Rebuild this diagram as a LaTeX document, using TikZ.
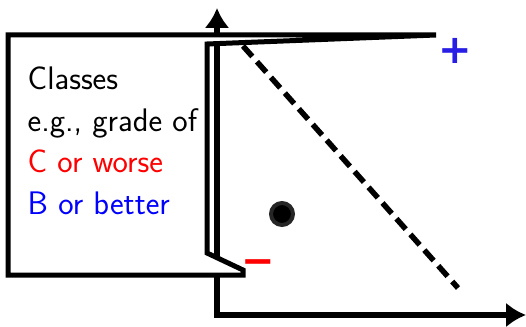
\documentclass[tikz,border=0pt]{standalone}
\usepackage{fontspec}
\usepackage{tikz}
\usetikzlibrary{arrows.meta}
\newfontfamily\zeichenfont{DejaVu Sans}
\definecolor{plusblau}{RGB}{40,30,230}

\begin{document}
\begin{tikzpicture}[x=1pt, y=-1pt,
			>={Latex[length=20pt,width=25pt]},   %Pfeilspitzen
			zeile/.style={anchor=base west, inner sep=0pt, font=\sffamily\fontsize{32.6}{41.5}\selectfont},
			zeichen/.style={inner sep=0pt, font=\zeichenfont\bfseries\fontsize{40}{40}\selectfont},
			blase/.style={draw, fill=white, line width=5pt, line join=miter}]
			\useasboundingbox (0,0) rectangle (526,326);
			% Achsen zeichnen
			\coordinate (O) at (217,315);
			\draw[<->, line width=5.5pt] (217,8) -- (O) -- (526,315);
			% Trennlinie
			\draw[line width=5.5pt, dash pattern=on 14pt off 7pt] (243,46) -- (458,288);
			% Punkt
			\draw[fill=black, draw=black!85, line width=4pt] (282,214) circle (11);
			% Sprechblase
			\draw[blase] (8,35) -- (436,35) -- (207,44) -- (207,253) -- (243,270) -- (243,275) -- (8,275) -- cycle;
			% Beschriftung
			\node[zeile] (classes) at (27.5,89.5) {Classes};
			\node[zeile] (grade) at (27.5,131) {e.g., grade of};
			\node[zeile, text=red] (worse) at (27.5,172.5) {C or worse};
			\node[zeile, text=blue] (better) at (27.5,214) {B or better};
			% Vorzeichen
			\node[zeichen, text=plusblau] (plus) at (455.5,50.5) {+};
			\node[zeichen, text=red] (minus) at (258,267) {−};
		\end{tikzpicture}
\end{document}
